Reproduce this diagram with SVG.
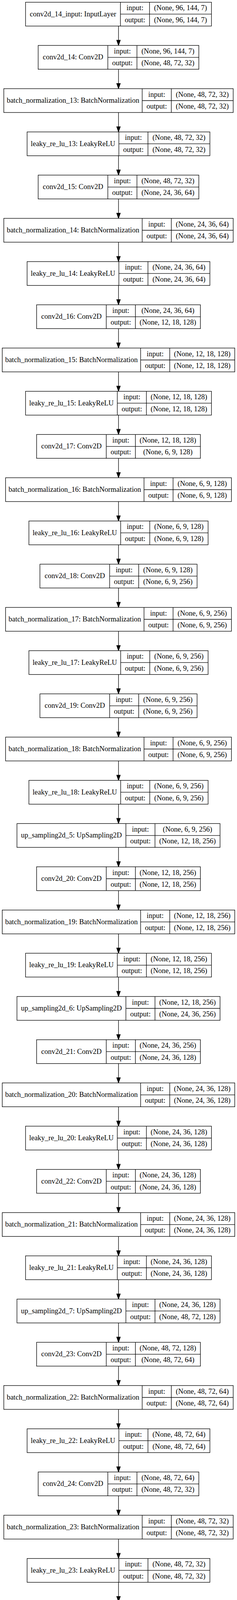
<svg xmlns="http://www.w3.org/2000/svg" width="607" height="4611" viewBox="0 0 607 4611">
<style>
.bg{fill:#fff;stroke:none}
.n rect{fill:#fff;stroke:#000;stroke-width:1.33}
.n path{fill:none;stroke:#000;stroke-width:1.33}
text{font-family:"Liberation Serif","Times New Roman",serif;font-size:18.5px;text-anchor:middle;fill:#000}
#edges path{fill:none;stroke:#000;stroke-width:1.33}
.ah{fill:#000;stroke:#000;stroke-width:1.33}
</style>
<defs>
<marker id="arr" markerUnits="userSpaceOnUse" markerWidth="14" markerHeight="10" refX="0" refY="4.67" orient="auto" overflow="visible"><path class="ah" d="M0,0L13.33,4.67L0,9.33Z"/></marker>
</defs>
<rect class="bg" width="607" height="4611"/>
<g id="edges">
<path marker-end="url(#arr)" d="M303.5,66.67V103"/>
<path marker-end="url(#arr)" d="M303.5,177.33V213.67"/>
<path marker-end="url(#arr)" d="M303.5,288V324.33"/>
<path marker-end="url(#arr)" d="M303.5,398.67V435"/>
<path marker-end="url(#arr)" d="M303.5,509.33V545.67"/>
<path marker-end="url(#arr)" d="M303.5,620V656.33"/>
<path marker-end="url(#arr)" d="M303.5,730.67V767"/>
<path marker-end="url(#arr)" d="M303.5,841.33V877.67"/>
<path marker-end="url(#arr)" d="M303.5,952V988.33"/>
<path marker-end="url(#arr)" d="M303.5,1062.67V1099"/>
<path marker-end="url(#arr)" d="M303.5,1173.33V1209.67"/>
<path marker-end="url(#arr)" d="M303.5,1284V1320.33"/>
<path marker-end="url(#arr)" d="M303.5,1394.67V1431"/>
<path marker-end="url(#arr)" d="M303.5,1505.33V1541.67"/>
<path marker-end="url(#arr)" d="M303.5,1616V1652.33"/>
<path marker-end="url(#arr)" d="M303.5,1726.67V1763"/>
<path marker-end="url(#arr)" d="M303.5,1837.33V1873.67"/>
<path marker-end="url(#arr)" d="M303.5,1948V1984.33"/>
<path marker-end="url(#arr)" d="M303.5,2058.67V2095"/>
<path marker-end="url(#arr)" d="M303.5,2169.33V2205.67"/>
<path marker-end="url(#arr)" d="M303.5,2280V2316.33"/>
<path marker-end="url(#arr)" d="M303.5,2390.67V2427"/>
<path marker-end="url(#arr)" d="M303.5,2501.33V2537.67"/>
<path marker-end="url(#arr)" d="M303.5,2612V2648.33"/>
<path marker-end="url(#arr)" d="M303.5,2722.67V2759"/>
<path marker-end="url(#arr)" d="M303.5,2833.33V2869.67"/>
<path marker-end="url(#arr)" d="M303.5,2944V2980.33"/>
<path marker-end="url(#arr)" d="M303.5,3054.67V3091"/>
<path marker-end="url(#arr)" d="M303.5,3165.33V3201.67"/>
<path marker-end="url(#arr)" d="M303.5,3276V3312.33"/>
<path marker-end="url(#arr)" d="M303.5,3386.67V3423"/>
<path marker-end="url(#arr)" d="M303.5,3497.33V3533.67"/>
<path marker-end="url(#arr)" d="M303.5,3608V3644.33"/>
<path marker-end="url(#arr)" d="M303.5,3718.67V3755"/>
<path marker-end="url(#arr)" d="M303.5,3829.33V3865.67"/>
<path marker-end="url(#arr)" d="M303.5,3940V3976.33"/>
<path marker-end="url(#arr)" d="M303.5,4050.67V4087"/>
<path marker-end="url(#arr)" d="M303.5,4161.33V4197.67"/>
<path marker-end="url(#arr)" d="M303.5,4272V4308.33"/>
<path marker-end="url(#arr)" d="M303.5,4382.67V4419"/>
<path marker-end="url(#arr)" d="M303.5,4493.33V4529.67"/>
</g>

<g id="conv2d_14_input" class="n" transform="translate(0,5.67)"><rect x="65.45" width="476.1" height="61"/><path d="M308.45,0V61M382.95,0V61M308.45,30.5H541.55"/><text x="186.95" y="36">conv2d_14_input: InputLayer</text><text x="345.7" y="20.5">input:</text><text x="345.7" y="51">output:</text><text x="462.25" y="20.5">(None, 96, 144, 7)</text><text x="462.25" y="51">(None, 96, 144, 7)</text></g>

<g id="conv2d_14" class="n" transform="translate(0,116.33)"><rect x="97.7" width="411.6" height="61"/><path d="M276.2,0V61M350.7,0V61M276.2,30.5H509.3"/><text x="186.95" y="36">conv2d_14: Conv2D</text><text x="313.45" y="20.5">input:</text><text x="313.45" y="51">output:</text><text x="430" y="20.5">(None, 96, 144, 7)</text><text x="430" y="51">(None, 48, 72, 32)</text></g>

<g id="batch_normalization_13" class="n" transform="translate(0,227)"><rect x="9.7" width="587.6" height="61"/><path d="M364.2,0V61M438.7,0V61M364.2,30.5H597.3"/><text x="186.95" y="36">batch_normalization_13: BatchNormalization</text><text x="401.45" y="20.5">input:</text><text x="401.45" y="51">output:</text><text x="518" y="20.5">(None, 48, 72, 32)</text><text x="518" y="51">(None, 48, 72, 32)</text></g>

<g id="leaky_re_lu_13" class="n" transform="translate(0,337.67)"><rect x="69.45" width="468.1" height="61"/><path d="M304.45,0V61M378.95,0V61M304.45,30.5H537.55"/><text x="186.95" y="36">leaky_re_lu_13: LeakyReLU</text><text x="341.7" y="20.5">input:</text><text x="341.7" y="51">output:</text><text x="458.25" y="20.5">(None, 48, 72, 32)</text><text x="458.25" y="51">(None, 48, 72, 32)</text></g>

<g id="conv2d_15" class="n" transform="translate(0,448.33)"><rect x="97.7" width="411.6" height="61"/><path d="M276.2,0V61M350.7,0V61M276.2,30.5H509.3"/><text x="186.95" y="36">conv2d_15: Conv2D</text><text x="313.45" y="20.5">input:</text><text x="313.45" y="51">output:</text><text x="430" y="20.5">(None, 48, 72, 32)</text><text x="430" y="51">(None, 24, 36, 64)</text></g>

<g id="batch_normalization_14" class="n" transform="translate(0,559)"><rect x="9.7" width="587.6" height="61"/><path d="M364.2,0V61M438.7,0V61M364.2,30.5H597.3"/><text x="186.95" y="36">batch_normalization_14: BatchNormalization</text><text x="401.45" y="20.5">input:</text><text x="401.45" y="51">output:</text><text x="518" y="20.5">(None, 24, 36, 64)</text><text x="518" y="51">(None, 24, 36, 64)</text></g>

<g id="leaky_re_lu_14" class="n" transform="translate(0,669.67)"><rect x="69.45" width="468.1" height="61"/><path d="M304.45,0V61M378.95,0V61M304.45,30.5H537.55"/><text x="186.95" y="36">leaky_re_lu_14: LeakyReLU</text><text x="341.7" y="20.5">input:</text><text x="341.7" y="51">output:</text><text x="458.25" y="20.5">(None, 24, 36, 64)</text><text x="458.25" y="51">(None, 24, 36, 64)</text></g>

<g id="conv2d_16" class="n" transform="translate(0,780.33)"><rect x="93.7" width="419.6" height="61"/><path d="M272.2,0V61M346.7,0V61M272.2,30.5H513.3"/><text x="182.95" y="36">conv2d_16: Conv2D</text><text x="309.45" y="20.5">input:</text><text x="309.45" y="51">output:</text><text x="430" y="20.5">(None, 24, 36, 64)</text><text x="430" y="51">(None, 12, 18, 128)</text></g>

<g id="batch_normalization_15" class="n" transform="translate(0,891)"><rect x="5.7" width="595.6" height="61"/><path d="M360.2,0V61M434.7,0V61M360.2,30.5H601.3"/><text x="182.95" y="36">batch_normalization_15: BatchNormalization</text><text x="397.45" y="20.5">input:</text><text x="397.45" y="51">output:</text><text x="518" y="20.5">(None, 12, 18, 128)</text><text x="518" y="51">(None, 12, 18, 128)</text></g>

<g id="leaky_re_lu_15" class="n" transform="translate(0,1001.67)"><rect x="65.45" width="476.1" height="61"/><path d="M300.45,0V61M374.95,0V61M300.45,30.5H541.55"/><text x="182.95" y="36">leaky_re_lu_15: LeakyReLU</text><text x="337.7" y="20.5">input:</text><text x="337.7" y="51">output:</text><text x="458.25" y="20.5">(None, 12, 18, 128)</text><text x="458.25" y="51">(None, 12, 18, 128)</text></g>

<g id="conv2d_17" class="n" transform="translate(0,1112.33)"><rect x="93.7" width="419.6" height="61"/><path d="M272.2,0V61M346.7,0V61M272.2,30.5H513.3"/><text x="182.95" y="36">conv2d_17: Conv2D</text><text x="309.45" y="20.5">input:</text><text x="309.45" y="51">output:</text><text x="430" y="20.5">(None, 12, 18, 128)</text><text x="430" y="51">(None, 6, 9, 128)</text></g>

<g id="batch_normalization_16" class="n" transform="translate(0,1223)"><rect x="14.3" width="578.4" height="61"/><path d="M368.8,0V61M443.3,0V61M368.8,30.5H592.7"/><text x="191.55" y="36">batch_normalization_16: BatchNormalization</text><text x="406.05" y="20.5">input:</text><text x="406.05" y="51">output:</text><text x="518" y="20.5">(None, 6, 9, 128)</text><text x="518" y="51">(None, 6, 9, 128)</text></g>

<g id="leaky_re_lu_16" class="n" transform="translate(0,1333.67)"><rect x="74.05" width="458.9" height="61"/><path d="M309.05,0V61M383.55,0V61M309.05,30.5H532.95"/><text x="191.55" y="36">leaky_re_lu_16: LeakyReLU</text><text x="346.3" y="20.5">input:</text><text x="346.3" y="51">output:</text><text x="458.25" y="20.5">(None, 6, 9, 128)</text><text x="458.25" y="51">(None, 6, 9, 128)</text></g>

<g id="conv2d_18" class="n" transform="translate(0,1444.33)"><rect x="102.3" width="402.4" height="61"/><path d="M280.8,0V61M355.3,0V61M280.8,30.5H504.7"/><text x="191.55" y="36">conv2d_18: Conv2D</text><text x="318.05" y="20.5">input:</text><text x="318.05" y="51">output:</text><text x="430" y="20.5">(None, 6, 9, 128)</text><text x="430" y="51">(None, 6, 9, 256)</text></g>

<g id="batch_normalization_17" class="n" transform="translate(0,1555)"><rect x="14.3" width="578.4" height="61"/><path d="M368.8,0V61M443.3,0V61M368.8,30.5H592.7"/><text x="191.55" y="36">batch_normalization_17: BatchNormalization</text><text x="406.05" y="20.5">input:</text><text x="406.05" y="51">output:</text><text x="518" y="20.5">(None, 6, 9, 256)</text><text x="518" y="51">(None, 6, 9, 256)</text></g>

<g id="leaky_re_lu_17" class="n" transform="translate(0,1665.67)"><rect x="74.05" width="458.9" height="61"/><path d="M309.05,0V61M383.55,0V61M309.05,30.5H532.95"/><text x="191.55" y="36">leaky_re_lu_17: LeakyReLU</text><text x="346.3" y="20.5">input:</text><text x="346.3" y="51">output:</text><text x="458.25" y="20.5">(None, 6, 9, 256)</text><text x="458.25" y="51">(None, 6, 9, 256)</text></g>

<g id="conv2d_19" class="n" transform="translate(0,1776.33)"><rect x="102.3" width="402.4" height="61"/><path d="M280.8,0V61M355.3,0V61M280.8,30.5H504.7"/><text x="191.55" y="36">conv2d_19: Conv2D</text><text x="318.05" y="20.5">input:</text><text x="318.05" y="51">output:</text><text x="430" y="20.5">(None, 6, 9, 256)</text><text x="430" y="51">(None, 6, 9, 256)</text></g>

<g id="batch_normalization_18" class="n" transform="translate(0,1887)"><rect x="14.3" width="578.4" height="61"/><path d="M368.8,0V61M443.3,0V61M368.8,30.5H592.7"/><text x="191.55" y="36">batch_normalization_18: BatchNormalization</text><text x="406.05" y="20.5">input:</text><text x="406.05" y="51">output:</text><text x="518" y="20.5">(None, 6, 9, 256)</text><text x="518" y="51">(None, 6, 9, 256)</text></g>

<g id="leaky_re_lu_18" class="n" transform="translate(0,1997.67)"><rect x="74.05" width="458.9" height="61"/><path d="M309.05,0V61M383.55,0V61M309.05,30.5H532.95"/><text x="191.55" y="36">leaky_re_lu_18: LeakyReLU</text><text x="346.3" y="20.5">input:</text><text x="346.3" y="51">output:</text><text x="458.25" y="20.5">(None, 6, 9, 256)</text><text x="458.25" y="51">(None, 6, 9, 256)</text></g>

<g id="up_sampling2d_5" class="n" transform="translate(0,2108.33)"><rect x="43.45" width="520.1" height="61"/><path d="M322.45,0V61M396.95,0V61M322.45,30.5H563.55"/><text x="182.95" y="36">up_sampling2d_5: UpSampling2D</text><text x="359.7" y="20.5">input:</text><text x="359.7" y="51">output:</text><text x="480.25" y="20.5">(None, 6, 9, 256)</text><text x="480.25" y="51">(None, 12, 18, 256)</text></g>

<g id="conv2d_20" class="n" transform="translate(0,2219)"><rect x="93.7" width="419.6" height="61"/><path d="M272.2,0V61M346.7,0V61M272.2,30.5H513.3"/><text x="182.95" y="36">conv2d_20: Conv2D</text><text x="309.45" y="20.5">input:</text><text x="309.45" y="51">output:</text><text x="430" y="20.5">(None, 12, 18, 256)</text><text x="430" y="51">(None, 12, 18, 256)</text></g>

<g id="batch_normalization_19" class="n" transform="translate(0,2329.67)"><rect x="5.7" width="595.6" height="61"/><path d="M360.2,0V61M434.7,0V61M360.2,30.5H601.3"/><text x="182.95" y="36">batch_normalization_19: BatchNormalization</text><text x="397.45" y="20.5">input:</text><text x="397.45" y="51">output:</text><text x="518" y="20.5">(None, 12, 18, 256)</text><text x="518" y="51">(None, 12, 18, 256)</text></g>

<g id="leaky_re_lu_19" class="n" transform="translate(0,2440.33)"><rect x="65.45" width="476.1" height="61"/><path d="M300.45,0V61M374.95,0V61M300.45,30.5H541.55"/><text x="182.95" y="36">leaky_re_lu_19: LeakyReLU</text><text x="337.7" y="20.5">input:</text><text x="337.7" y="51">output:</text><text x="458.25" y="20.5">(None, 12, 18, 256)</text><text x="458.25" y="51">(None, 12, 18, 256)</text></g>

<g id="up_sampling2d_6" class="n" transform="translate(0,2551)"><rect x="43.45" width="520.1" height="61"/><path d="M322.45,0V61M396.95,0V61M322.45,30.5H563.55"/><text x="182.95" y="36">up_sampling2d_6: UpSampling2D</text><text x="359.7" y="20.5">input:</text><text x="359.7" y="51">output:</text><text x="480.25" y="20.5">(None, 12, 18, 256)</text><text x="480.25" y="51">(None, 24, 36, 256)</text></g>

<g id="conv2d_21" class="n" transform="translate(0,2661.67)"><rect x="93.7" width="419.6" height="61"/><path d="M272.2,0V61M346.7,0V61M272.2,30.5H513.3"/><text x="182.95" y="36">conv2d_21: Conv2D</text><text x="309.45" y="20.5">input:</text><text x="309.45" y="51">output:</text><text x="430" y="20.5">(None, 24, 36, 256)</text><text x="430" y="51">(None, 24, 36, 128)</text></g>

<g id="batch_normalization_20" class="n" transform="translate(0,2772.33)"><rect x="5.7" width="595.6" height="61"/><path d="M360.2,0V61M434.7,0V61M360.2,30.5H601.3"/><text x="182.95" y="36">batch_normalization_20: BatchNormalization</text><text x="397.45" y="20.5">input:</text><text x="397.45" y="51">output:</text><text x="518" y="20.5">(None, 24, 36, 128)</text><text x="518" y="51">(None, 24, 36, 128)</text></g>

<g id="leaky_re_lu_20" class="n" transform="translate(0,2883)"><rect x="65.45" width="476.1" height="61"/><path d="M300.45,0V61M374.95,0V61M300.45,30.5H541.55"/><text x="182.95" y="36">leaky_re_lu_20: LeakyReLU</text><text x="337.7" y="20.5">input:</text><text x="337.7" y="51">output:</text><text x="458.25" y="20.5">(None, 24, 36, 128)</text><text x="458.25" y="51">(None, 24, 36, 128)</text></g>

<g id="conv2d_22" class="n" transform="translate(0,2993.67)"><rect x="93.7" width="419.6" height="61"/><path d="M272.2,0V61M346.7,0V61M272.2,30.5H513.3"/><text x="182.95" y="36">conv2d_22: Conv2D</text><text x="309.45" y="20.5">input:</text><text x="309.45" y="51">output:</text><text x="430" y="20.5">(None, 24, 36, 128)</text><text x="430" y="51">(None, 24, 36, 128)</text></g>

<g id="batch_normalization_21" class="n" transform="translate(0,3104.33)"><rect x="5.7" width="595.6" height="61"/><path d="M360.2,0V61M434.7,0V61M360.2,30.5H601.3"/><text x="182.95" y="36">batch_normalization_21: BatchNormalization</text><text x="397.45" y="20.5">input:</text><text x="397.45" y="51">output:</text><text x="518" y="20.5">(None, 24, 36, 128)</text><text x="518" y="51">(None, 24, 36, 128)</text></g>

<g id="leaky_re_lu_21" class="n" transform="translate(0,3215)"><rect x="65.45" width="476.1" height="61"/><path d="M300.45,0V61M374.95,0V61M300.45,30.5H541.55"/><text x="182.95" y="36">leaky_re_lu_21: LeakyReLU</text><text x="337.7" y="20.5">input:</text><text x="337.7" y="51">output:</text><text x="458.25" y="20.5">(None, 24, 36, 128)</text><text x="458.25" y="51">(None, 24, 36, 128)</text></g>

<g id="up_sampling2d_7" class="n" transform="translate(0,3325.67)"><rect x="43.45" width="520.1" height="61"/><path d="M322.45,0V61M396.95,0V61M322.45,30.5H563.55"/><text x="182.95" y="36">up_sampling2d_7: UpSampling2D</text><text x="359.7" y="20.5">input:</text><text x="359.7" y="51">output:</text><text x="480.25" y="20.5">(None, 24, 36, 128)</text><text x="480.25" y="51">(None, 48, 72, 128)</text></g>

<g id="conv2d_23" class="n" transform="translate(0,3436.33)"><rect x="93.7" width="419.6" height="61"/><path d="M272.2,0V61M346.7,0V61M272.2,30.5H513.3"/><text x="182.95" y="36">conv2d_23: Conv2D</text><text x="309.45" y="20.5">input:</text><text x="309.45" y="51">output:</text><text x="430" y="20.5">(None, 48, 72, 128)</text><text x="430" y="51">(None, 48, 72, 64)</text></g>

<g id="batch_normalization_22" class="n" transform="translate(0,3547)"><rect x="9.7" width="587.6" height="61"/><path d="M364.2,0V61M438.7,0V61M364.2,30.5H597.3"/><text x="186.95" y="36">batch_normalization_22: BatchNormalization</text><text x="401.45" y="20.5">input:</text><text x="401.45" y="51">output:</text><text x="518" y="20.5">(None, 48, 72, 64)</text><text x="518" y="51">(None, 48, 72, 64)</text></g>

<g id="leaky_re_lu_22" class="n" transform="translate(0,3657.67)"><rect x="69.45" width="468.1" height="61"/><path d="M304.45,0V61M378.95,0V61M304.45,30.5H537.55"/><text x="186.95" y="36">leaky_re_lu_22: LeakyReLU</text><text x="341.7" y="20.5">input:</text><text x="341.7" y="51">output:</text><text x="458.25" y="20.5">(None, 48, 72, 64)</text><text x="458.25" y="51">(None, 48, 72, 64)</text></g>

<g id="conv2d_24" class="n" transform="translate(0,3768.33)"><rect x="97.7" width="411.6" height="61"/><path d="M276.2,0V61M350.7,0V61M276.2,30.5H509.3"/><text x="186.95" y="36">conv2d_24: Conv2D</text><text x="313.45" y="20.5">input:</text><text x="313.45" y="51">output:</text><text x="430" y="20.5">(None, 48, 72, 64)</text><text x="430" y="51">(None, 48, 72, 32)</text></g>

<g id="batch_normalization_23" class="n" transform="translate(0,3879)"><rect x="9.7" width="587.6" height="61"/><path d="M364.2,0V61M438.7,0V61M364.2,30.5H597.3"/><text x="186.95" y="36">batch_normalization_23: BatchNormalization</text><text x="401.45" y="20.5">input:</text><text x="401.45" y="51">output:</text><text x="518" y="20.5">(None, 48, 72, 32)</text><text x="518" y="51">(None, 48, 72, 32)</text></g>

<g id="leaky_re_lu_23" class="n" transform="translate(0,3989.67)"><rect x="69.45" width="468.1" height="61"/><path d="M304.45,0V61M378.95,0V61M304.45,30.5H537.55"/><text x="186.95" y="36">leaky_re_lu_23: LeakyReLU</text><text x="341.7" y="20.5">input:</text><text x="341.7" y="51">output:</text><text x="458.25" y="20.5">(None, 48, 72, 32)</text><text x="458.25" y="51">(None, 48, 72, 32)</text></g>

<g id="up_sampling2d_8" class="n" transform="translate(0,4100.33)"><rect x="47.45" width="512.1" height="61"/><path d="M326.45,0V61M400.95,0V61M326.45,30.5H559.55"/><text x="186.95" y="36">up_sampling2d_8: UpSampling2D</text><text x="363.7" y="20.5">input:</text><text x="363.7" y="51">output:</text><text x="480.25" y="20.5">(None, 48, 72, 32)</text><text x="480.25" y="51">(None, 96, 72, 32)</text></g>

<g id="conv2d_25" class="n" transform="translate(0,4211)"><rect x="97.7" width="411.6" height="61"/><path d="M276.2,0V61M350.7,0V61M276.2,30.5H509.3"/><text x="186.95" y="36">conv2d_25: Conv2D</text><text x="313.45" y="20.5">input:</text><text x="313.45" y="51">output:</text><text x="430" y="20.5">(None, 96, 72, 32)</text><text x="430" y="51">(None, 96, 72, 32)</text></g>

<g id="batch_normalization_24" class="n" transform="translate(0,4321.67)"><rect x="9.7" width="587.6" height="61"/><path d="M364.2,0V61M438.7,0V61M364.2,30.5H597.3"/><text x="186.95" y="36">batch_normalization_24: BatchNormalization</text><text x="401.45" y="20.5">input:</text><text x="401.45" y="51">output:</text><text x="518" y="20.5">(None, 96, 72, 32)</text><text x="518" y="51">(None, 96, 72, 32)</text></g>

<g id="leaky_re_lu_24" class="n" transform="translate(0,4432.33)"><rect x="69.45" width="468.1" height="61"/><path d="M304.45,0V61M378.95,0V61M304.45,30.5H537.55"/><text x="186.95" y="36">leaky_re_lu_24: LeakyReLU</text><text x="341.7" y="20.5">input:</text><text x="341.7" y="51">output:</text><text x="458.25" y="20.5">(None, 96, 72, 32)</text><text x="458.25" y="51">(None, 96, 72, 32)</text></g>

<g id="conv2d_26" class="n" transform="translate(0,4543)"><rect x="97.7" width="411.6" height="61"/><path d="M276.2,0V61M350.7,0V61M276.2,30.5H509.3"/><text x="186.95" y="36">conv2d_26: Conv2D</text><text x="313.45" y="20.5">input:</text><text x="313.45" y="51">output:</text><text x="430" y="20.5">(None, 96, 72, 32)</text><text x="430" y="51">(None, 96, 72, 7)</text></g>
</svg>
